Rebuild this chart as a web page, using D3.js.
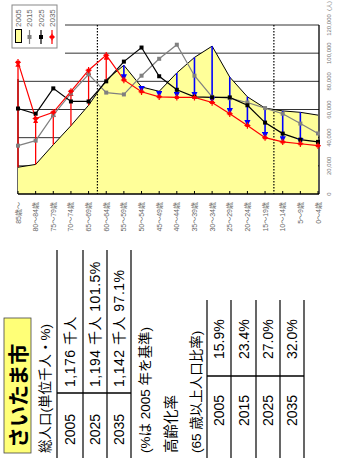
<!DOCTYPE html>
<html><head><meta charset="utf-8">
<script src="https://cdn.jsdelivr.net/npm/d3@7"></script>
<style>
html,body{margin:0;padding:0;background:#fff;}
svg{display:block;}
text{font-family:"Liberation Sans","Noto Sans CJK JP",sans-serif;}
</style></head><body>
<svg id="c" width="347" height="458"></svg>
<script>
// Age groups, oldest on the left
const ages = ["85歳～","80～84歳","75～79歳","70～74歳","65～69歳","60～64歳","55～59歳","50～54歳","45～49歳",
  "40～44歳","35～39歳","30～34歳","25～29歳","20～24歳","15～19歳","10～14歳","5～9歳","0～4歳"];
const years = ["2005","2015","2025","2035"];
// Population by age group (persons)
const pop2005 = [19000,21000,35000,48500,63000,81000,91400,76000,72900,86000,97000,105000,83000,69000,61000,59000,58000,56000];
const pop2015 = [34300,37900,56000,71400,85000,72000,70700,84000,96000,106000,84000,69000,68000,65000,61000,57000,50000,43000];
const pop2025 = [60700,57000,75000,65700,65700,80000,94000,104000,83600,74000,69000,68600,68600,63000,50700,42900,38600,37000];
const pop2035 = [93600,53600,58000,72900,87900,98600,81000,72600,69000,68600,68600,65000,57000,48600,40000,37000,35700,34300];
const valueTicks = [0,20000,40000,60000,80000,100000,120000];
// Summary tables
const totalYears = ["2005","2025","2035"];
const totalLabels = ["1,176 千人","1,194 千人 101.5%","1,142 千人 97.1%"];
const agingYears = ["2005","2015","2025","2035"];
const agingRates = ["15.9%","23.4%","27.0%","32.0%"];

const svg = d3.select("#c");
const x = d3.scalePoint().domain(ages).range([18, 318]);
const y = d3.scaleLinear().domain([0, 120000]).range([194, 25]);
const step = x.step();
const L = 18, R = 319;

const defs = svg.append("defs");
function arrowMarker(id, color) {
  defs.append("marker").attr("id", id).attr("viewBox", "0 0 10 10")
    .attr("refX", 9).attr("refY", 5).attr("markerWidth", 4).attr("markerHeight", 4)
    .attr("orient", "auto").append("path").attr("d", "M0,0L10,5L0,10z").attr("fill", color);
}
arrowMarker("ab", "#0000ff");
arrowMarker("ar", "#ff0000");

// gridlines and frame
const g = svg.append("g");
g.selectAll("line.grid").data(valueTicks.slice(1)).join("line")
  .attr("x1", L).attr("x2", R).attr("y1", d => y(d)).attr("y2", d => y(d))
  .attr("stroke", "#333").attr("stroke-width", 1);
g.append("line").attr("x1", R).attr("x2", R).attr("y1", y(120000)).attr("y2", y(0))
  .attr("stroke", "#000").attr("stroke-width", 1.3);
// legend backdrop
g.append("rect").attr("x", 0).attr("y", 0).attr("width", 65).attr("height", 78).attr("fill", "#fff");
g.append("line").attr("x1", L).attr("x2", L).attr("y1", 79).attr("y2", y(0))
  .attr("stroke", "#000").attr("stroke-width", 1.2);

// 2005 area
const area = d3.area().x((d, i) => x(ages[i])).y0(y(0)).y1(d => y(d));
g.append("path").datum(pop2005).attr("d", area).attr("fill", "#ffff99");
g.append("path").datum(pop2005).attr("d", d3.line().x((d, i) => x(ages[i])).y(d => y(d)))
  .attr("fill", "none").attr("stroke", "#000").attr("stroke-width", 1);

// boundaries of 65+ and under-15 groups
[x(ages[4]) + step / 2, x(ages[14]) + step / 2].forEach(px => {
  g.append("line").attr("x1", px).attr("x2", px).attr("y1", y(120000)).attr("y2", y(0))
    .attr("stroke", "#000").attr("stroke-width", 1.2).attr("stroke-dasharray", "1.5,1.5");
});

// bottom axis
g.append("line").attr("x1", L).attr("x2", R).attr("y1", y(0)).attr("y2", y(0))
  .attr("stroke", "#000").attr("stroke-width", 1.5);
g.selectAll("line.tk").data(ages).join("line")
  .attr("x1", d => x(d)).attr("x2", d => x(d)).attr("y1", y(0)).attr("y2", y(0) - 3)
  .attr("stroke", "#000").attr("stroke-width", 1);

// series lines
const lineGen = d3.line().x((d, i) => x(ages[i])).y(d => y(d));
g.append("path").datum(pop2015).attr("d", lineGen).attr("fill", "none").attr("stroke", "#808080").attr("stroke-width", 1.2);
g.append("path").datum(pop2025).attr("d", lineGen).attr("fill", "none").attr("stroke", "#000").attr("stroke-width", 1.2);
g.append("path").datum(pop2035).attr("d", lineGen).attr("fill", "none").attr("stroke", "#ff0000").attr("stroke-width", 1.2);

// change 2005 -> 2035
ages.forEach((a, i) => {
  const v0 = pop2005[i], v1 = pop2035[i];
  if (v1 > v0) {
    g.append("line").attr("x1", x(a)).attr("x2", x(a)).attr("y1", y(v0)).attr("y2", y(v1))
      .attr("stroke", "#ff0000").attr("stroke-width", 1.3).attr("marker-end", "url(#ar)");
  } else if (i < ages.length - 1) {
    g.append("line").attr("x1", x(a)).attr("x2", x(a)).attr("y1", y(v0)).attr("y2", y(v1))
      .attr("stroke", "#0000ff").attr("stroke-width", 1.6).attr("marker-end", "url(#ab)");
  }
});

// markers
function squares(data, color) {
  g.selectAll(null).data(data).join("rect")
    .attr("x", (d, i) => x(ages[i]) - 2).attr("y", d => y(d) - 2)
    .attr("width", 4).attr("height", 4).attr("fill", color);
}
squares(pop2015, "#808080");
squares(pop2025, "#000");
const star = "M-2,-1.5h4v3h-4z M-0.6,-3.2h1.2v6.4h-1.2z M-3,-0.5h6v1h-6z";
g.selectAll(null).data(pop2035).join("path")
  .attr("transform", (d, i) => `translate(${x(ages[i])},${y(d)})`)
  .attr("d", star).attr("fill", "#ff0000");

// rotated text helper
function vtext(px, py, str, size, opts = {}) {
  return svg.append("text").attr("transform", `translate(${px},${py}) rotate(-90)`)
    .attr("text-anchor", opts.anchor || "start").attr("dominant-baseline", "central")
    .attr("font-size", size).attr("font-weight", opts.weight || "normal")
    .attr("fill", opts.fill || "#000").attr("letter-spacing", opts.ls || 0).text(str);
}

// value axis labels
valueTicks.forEach(v => vtext(329, y(v), d3.format(",")(v), 6, {anchor: "middle", fill: "#777"}));
vtext(329, 6, "(人)", 6, {anchor: "middle", fill: "#777"});
// category labels
ages.forEach(a => vtext(x(a), 202, a, 7, {anchor: "end", fill: "#666"}));

// legend
svg.append("rect").attr("x", 12).attr("y", 5).attr("width", 45).attr("height", 43)
  .attr("fill", "#fff").attr("stroke", "#888").attr("stroke-width", 1);
const legX = [18.5, 29.5, 41, 52];
years.forEach((yr, i) => vtext(legX[i], 27, yr, 8, {fill: "#666"}));
svg.append("rect").attr("x", 15.5).attr("y", 29.5).attr("width", 6).attr("height", 13)
  .attr("fill", "#ffff99").attr("stroke", "#000");
[["#808080", 1], ["#000", 2]].forEach(([c, i]) => {
  svg.append("line").attr("x1", legX[i]).attr("x2", legX[i]).attr("y1", 30).attr("y2", 44).attr("stroke", c).attr("stroke-width", 1.2);
  svg.append("rect").attr("x", legX[i] - 2).attr("y", 35).attr("width", 4).attr("height", 4).attr("fill", c);
});
svg.append("line").attr("x1", legX[3]).attr("x2", legX[3]).attr("y1", 30).attr("y2", 44).attr("stroke", "#ff0000").attr("stroke-width", 1.2);
svg.append("path").attr("transform", `translate(${legX[3]},37)`).attr("d", star).attr("fill", "#ff0000");

// ---- summary block ----
svg.append("rect").attr("x", 4).attr("y", 318).attr("width", 27).attr("height", 135)
  .attr("fill", "#ffff77").attr("stroke", "#444").attr("stroke-width", 0.8);
vtext(18, 448, "さいたま市", 21, {weight: "bold"});
vtext(45, 453, "総人口(単位千人・%)", 13.5);

const t1 = [57, 83, 107, 131];
t1.forEach(px => svg.append("line").attr("x1", px).attr("x2", px).attr("y1", 250).attr("y2", 458).attr("stroke", "#000").attr("stroke-width", 1.2));
svg.append("line").attr("x1", t1[0]).attr("x2", t1[3]).attr("y1", 393).attr("y2", 393).attr("stroke", "#000").attr("stroke-width", 1.5);
totalYears.forEach((yr, i) => {
  const cx = (t1[i] + t1[i + 1]) / 2;
  vtext(cx, 445, yr, 14);
  vtext(cx, 387, totalLabels[i], 14, {ls: 0.5});
});

vtext(145, 453, "(%は 2005 年を基準)", 13.5);
vtext(171, 453, "高齢化率", 14.5);
vtext(196, 453, "(65 歳以上人口比率)", 13.5);

const t2 = [207, 231, 256, 280, 304];
t2.forEach(px => svg.append("line").attr("x1", px).attr("x2", px).attr("y1", 300).attr("y2", 458).attr("stroke", "#000").attr("stroke-width", 1.2));
svg.append("line").attr("x1", t2[0]).attr("x2", t2[4]).attr("y1", 376).attr("y2", 376).attr("stroke", "#000").attr("stroke-width", 1.5);
agingYears.forEach((yr, i) => {
  const cx = (t2[i] + t2[i + 1]) / 2;
  vtext(cx, 426, yr, 14);
  vtext(cx, 359, agingRates[i], 14);
});
</script></body></html>
